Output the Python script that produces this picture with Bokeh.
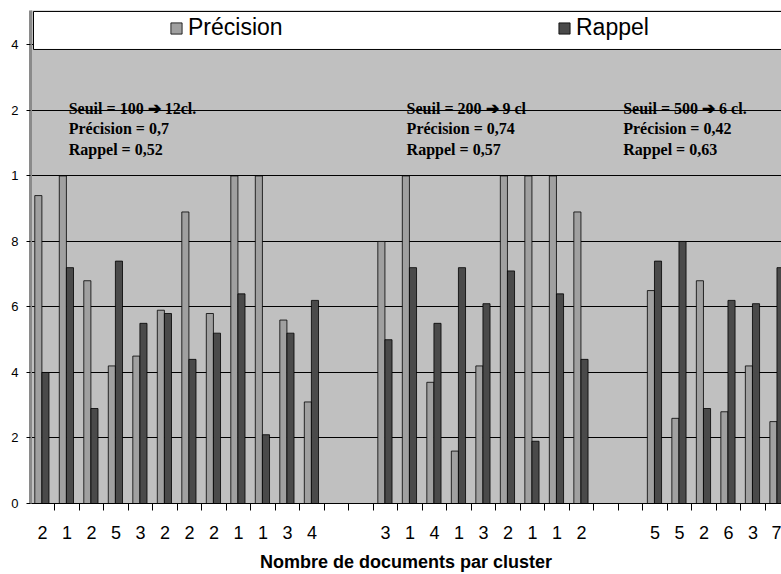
from bokeh.plotting import figure
from bokeh.models import (ColumnDataSource, Range1d, FixedTicker, Legend, LegendItem,
                          Label, BoxAnnotation)
from bokeh.transform import dodge
from bokeh.embed import file_html
from bokeh.resources import INLINE

# ---- data ----
doc_counts = ["2", "1", "2", "5", "3", "2", "2", "2", "1", "1", "3", "4", "", "",
              "3", "1", "4", "1", "3", "2", "1", "1", "2", "", "",
              "5", "5", "2", "6", "3", "7"]
precision = [0.94, 1.0, 0.68, 0.42, 0.45, 0.59, 0.89, 0.58, 1.0, 1.0, 0.56, 0.31, None, None,
             0.80, 1.0, 0.37, 0.16, 0.42, 1.0, 1.0, 1.0, 0.89, None, None,
             0.65, 0.26, 0.68, 0.28, 0.42, 0.25]
rappel = [0.40, 0.72, 0.29, 0.74, 0.55, 0.58, 0.44, 0.52, 0.64, 0.21, 0.52, 0.62, None, None,
          0.50, 0.72, 0.55, 0.72, 0.61, 0.71, 0.19, 0.64, 0.44, None, None,
          0.74, 0.80, 0.29, 0.62, 0.61, 0.72]
y_ticks = [0, 0.2, 0.4, 0.6, 0.8, 1.0, 1.2, 1.4]
y_tick_labels = ["0", "2", "4", "6", "8", "1", "2", "4"]
notes = [
    (1.07, "Seuil = 100 \u2794 12cl.\nPrécision = 0,7\nRappel = 0,52"),
    (14.86, "Seuil = 200 \u2794 9 cl\nPrécision = 0,74\nRappel = 0,57"),
    (23.70, "Seuil = 500 \u2794 6 cl.\nPrécision = 0,42\nRappel = 0,63"),
]

slots = [i for i, v in enumerate(precision) if v is not None]
src = ColumnDataSource(dict(
    x=slots,
    precision=[precision[i] for i in slots],
    rappel=[rappel[i] for i in slots],
))

p = figure(width=781, height=574, output_backend="svg", toolbar_location=None,
           x_range=Range1d(-0.49, 30.16), y_range=Range1d(0, 1.505),
           min_border_left=30, min_border_right=0, min_border_top=10, min_border_bottom=71)
p.background_fill_color = "#c0c0c0"
p.border_fill_color = "white"
p.outline_line_color = None

r1 = p.vbar(x=dodge("x", -0.17, range=p.x_range), top="precision", width=0.29, bottom=0,
            source=src, fill_color="#a0a0a0", line_color="black", line_width=0.8)
r2 = p.vbar(x=dodge("x", 0.12, range=p.x_range), top="rappel", width=0.29, bottom=0,
            source=src, fill_color="#4a4a4a", line_color="black", line_width=0.8)

# x axis
p.xaxis.ticker = FixedTicker(ticks=slots, minor_ticks=[k - 0.5 for k in range(len(doc_counts) + 1)])
p.xaxis.major_label_overrides = {i: doc_counts[i] for i in slots}
p.xaxis.major_tick_line_color = None
p.xaxis.major_tick_out = 0
p.xaxis.minor_tick_out = 7
p.xaxis.minor_tick_in = 0
p.xaxis.minor_tick_line_color = "black"
p.xaxis.axis_line_color = "black"
p.xaxis.major_label_standoff = 15
p.xaxis.major_label_text_font = "Liberation Sans"
p.xaxis.major_label_text_font_size = "18px"
p.xaxis.major_label_text_color = "black"
p.xaxis.axis_label = "Nombre de documents par cluster"
p.xaxis.axis_label_text_font = "Liberation Sans"
p.xaxis.axis_label_text_font_size = "18px"
p.xaxis.axis_label_text_font_style = "bold"
p.xaxis.axis_label_text_color = "black"
p.xaxis.axis_label_standoff = 10

# y axis
p.yaxis.ticker = FixedTicker(ticks=y_ticks)
p.yaxis.major_label_overrides = {t: l for t, l in zip(y_ticks, y_tick_labels)}
p.yaxis.minor_tick_line_color = None
p.yaxis.major_tick_out = 4
p.yaxis.major_tick_in = 0
p.yaxis.major_tick_line_color = "black"
p.yaxis.axis_line_color = "#8a8a8a"
p.yaxis.axis_line_width = 3
p.yaxis.major_label_standoff = 8
p.yaxis.major_label_text_font = "Liberation Sans"
p.yaxis.major_label_text_font_size = "13px"
p.yaxis.major_label_text_color = "black"

p.xgrid.grid_line_color = None
p.ygrid.grid_line_color = "black"
p.ygrid.grid_line_width = 1

for x, txt in notes:
    p.add_layout(Label(x=x, y=1.232, text=txt, text_font="Liberation Serif",
                       text_font_size="16px", text_font_style="bold", text_color="black",
                       text_baseline="top", text_align="left", text_line_height=1.2))

# legend box
p.add_layout(BoxAnnotation(left=-0.367, right=31, bottom=1.386, top=1.502,
                           fill_color="white", fill_alpha=1, line_color="black",
                           line_width=1, line_alpha=1))

legend = Legend(items=[LegendItem(label="Précision", renderers=[r1]),
                       LegendItem(label="Rappel", renderers=[r2])],
                orientation="horizontal", location=(139, 462),
                padding=0, margin=0, spacing=9,
                glyph_width=14, glyph_height=14, label_standoff=5, label_width=360,
                label_height=26,
                label_text_font="Liberation Sans", label_text_font_size="23px",
                label_text_color="black",
                background_fill_alpha=0, border_line_color=None)
p.add_layout(legend)

open("out.html", "w").write(file_html(p, INLINE))
